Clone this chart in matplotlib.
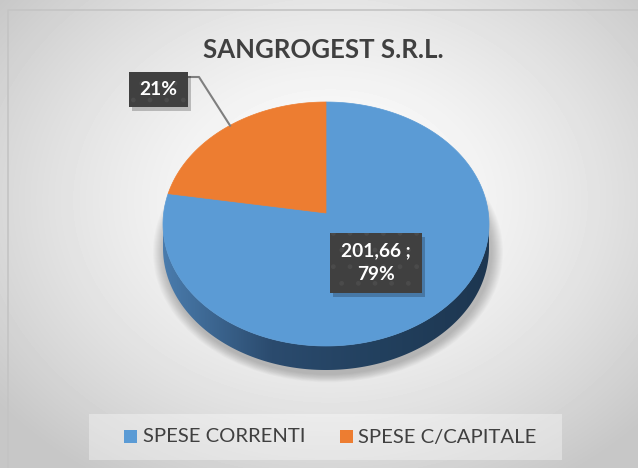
import matplotlib
matplotlib.use("Agg")
import matplotlib.pyplot as plt
from matplotlib.patches import Polygon, Rectangle, Ellipse
from matplotlib.colors import LinearSegmentedColormap
import numpy as np

plt.rcParams['font.family'] = ['Lato', 'DejaVu Sans']

# dati
title = "SANGROGEST S.R.L."
categorie = ["SPESE CORRENTI", "SPESE C/CAPITALE"]
valori = [201.66, 53.61]
colori = ["#5b9bd5", "#ed7d31"]

W, H = 638, 468
fig = plt.figure(figsize=(W / 100, H / 100), dpi=100)
ax = fig.add_axes([0, 0, 1, 1])
ax.set_xlim(0, W)
ax.set_ylim(H, 0)
ax.axis("off")

# sfondo sfumato
yy, xx = np.mgrid[0:H, 0:W]
r = np.sqrt(((xx - 330) / 420.0) ** 2 + ((yy - 200) / 330.0) ** 2)
bg = 1 - 0.22 * np.clip(r, 0, 1) ** 1.5
ax.imshow(bg, cmap="gray", vmin=0, vmax=1, extent=(0, W, H, 0), zorder=0, aspect="auto")
ax.plot([8, 8, W], [H, 10, 10], color="#c4c4c4", lw=1.2, zorder=1)

# geometria torta 3d
cx, cy = 326, 224
rx, ry = 163, 122
depth = 24
vx, vy = cx, cy - 11


def rim(t):
    t = np.radians(t)
    return cx + rx * np.cos(t), cy - ry * np.sin(t)


# ombra
for k in range(12, 0, -1):
    ax.add_patch(Ellipse((cx + 2, cy + depth + 4), 2 * (rx + k), 2 * (ry + k * 0.7),
                         color="black", alpha=0.018, lw=0, zorder=2))

vals = np.array(valori)
frac = vals / vals.sum()
angoli = []
start = 90.0
for f in frac:
    angoli.append((start - f * 360, start))
    start -= f * 360

# lato (sfumatura orizzontale ritagliata sul contorno)
ts = np.linspace(180, 360, 300)
top = [rim(t) for t in ts]
bot = [(x, y + depth) for x, y in top[::-1]]
lato = Polygon(top + bot, closed=True, facecolor="none", lw=0, zorder=3)
ax.add_patch(lato)
cmap_lato = LinearSegmentedColormap.from_list("lato", ["#4a7cad", "#2b4b6e", "#22405e", "#1d3650"])
grad = np.linspace(0, 1, 256).reshape(1, -1)
img = ax.imshow(grad, cmap=cmap_lato, extent=(cx - rx, cx + rx, cy + ry + depth, cy - 2),
                aspect="auto", zorder=3)
img.set_clip_path(lato)

# facce superiori
for (a1, a2), col in zip(angoli, colori):
    tt = np.linspace(a1, a2, 200)
    pts = [(vx, vy)] + [rim(t) for t in tt]
    ax.add_patch(Polygon(pts, closed=True, facecolor=col, edgecolor=col, lw=0.5, zorder=4))


def etichetta(x, y, w, h, testo):
    ax.add_patch(Rectangle((x + 3, y + 4), w, h, color="black", alpha=0.22, lw=0, zorder=6))
    ax.add_patch(Rectangle((x, y), w, h, facecolor="#404040", edgecolor="#4b4b4b",
                           lw=0, hatch=".", zorder=7))
    ax.text(x + w / 2, y + h / 2, testo, color="white", fontsize=13.8, fontweight="bold",
            ha="center", va="center", linespacing=1.5, zorder=8)


# etichetta 21%
am = (angoli[1][0] + angoli[1][1]) / 2
ex, ey = rim(am)
ax.plot([188, 199, ex + 4], [77, 77, ey - 2], color="#7f7f7f", lw=1.5, zorder=5)
etichetta(129, 72, 59, 35, f"{frac[1] * 100:.0f}%")

# etichetta 201,66
testo = f"{valori[0]:.2f}".replace(".", ",") + " ;\n" + f"{frac[0] * 100:.0f}%"
etichetta(330, 233, 92, 60, testo)

# titolo
ax.text(323, 50, title, fontsize=18.5, fontweight="bold", color="#404040",
        ha="center", va="center", zorder=8)

# legenda
ax.add_patch(Rectangle((89, 414), 473, 46, color="white", alpha=0.35, lw=0, zorder=5))
for (sx, tx), cat, col in zip([(124, 143), (340, 358)], categorie, colori):
    ax.add_patch(Rectangle((sx, 430), 13, 13, color=col, lw=0, zorder=6))
    ax.text(tx, 437, cat, fontsize=14.6, color="#404040", ha="left", va="center", zorder=6)

fig.savefig("out.png", dpi=100)
